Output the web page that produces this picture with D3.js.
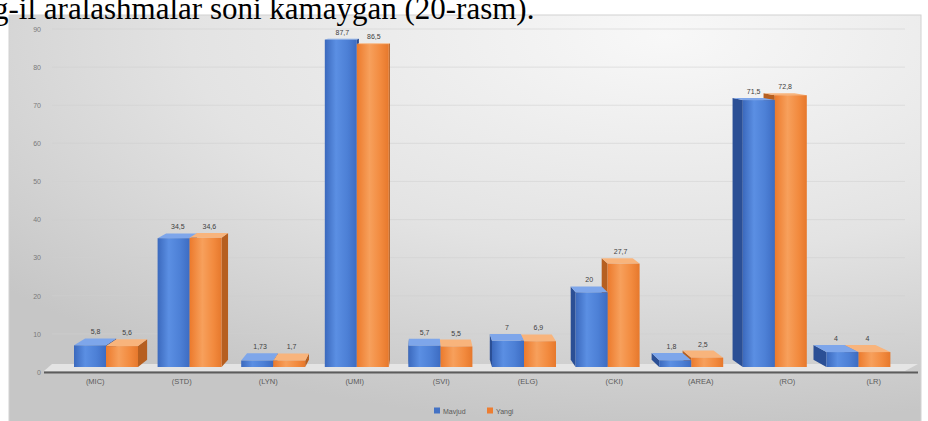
<!DOCTYPE html>
<html>
<head>
<meta charset="utf-8">
<script src="https://cdn.jsdelivr.net/npm/d3@7"></script>
<style>
  html, body { margin: 0; padding: 0; background: #ffffff; overflow: hidden; }
  svg { display: block; }
</style>
</head>
<body>
<svg id="chart" width="928" height="421"></svg>
<script>
// Categories and the two series (values as printed on the bars)
const categories = ["(MIC)", "(STD)", "(LYN)", "(UMI)", "(SVI)", "(ELG)", "(CKI)", "(AREA)", "(RO)", "(LR)"];
const mavjud = [5.8, 34.5, 1.73, 87.7, 5.7, 7, 20, 1.8, 71.5, 4];
const yangi  = [5.6, 34.6, 1.7, 86.5, 5.5, 6.9, 27.7, 2.5, 72.8, 4];
const seriesNames = ["Mavjud", "Yangi"];
const yTickValues = [0, 10, 20, 30, 40, 50, 60, 70, 80, 90];

const svg = d3.select("#chart");
const defs = svg.append("defs");

// Chart area background: light in the upper right, greyer towards the edges
const bg = defs.append("radialGradient").attr("id", "bgGrad")
  .attr("cx", "0.72").attr("cy", "0.05").attr("r", "0.95");
bg.append("stop").attr("offset", "0%").attr("stop-color", "#f8f8f8");
bg.append("stop").attr("offset", "55%").attr("stop-color", "#e3e3e3");
bg.append("stop").attr("offset", "100%").attr("stop-color", "#c6c6c6");

// Front-face shading for the columns
function faceGradient(id, stops) {
  const g = defs.append("linearGradient").attr("id", id)
    .attr("x1", "0").attr("y1", "0").attr("x2", "1").attr("y2", "0");
  stops.forEach(([o, c]) => g.append("stop").attr("offset", o).attr("stop-color", c));
}
faceGradient("blueFace", [["0%", "#3b69bd"], ["35%", "#5b8fe3"], ["70%", "#4d80d6"], ["100%", "#3d6cc2"]]);
faceGradient("orangeFace", [["0%", "#ec7a2c"], ["40%", "#f7a05c"], ["75%", "#f28a3e"], ["100%", "#e6782c"]]);

const palette = {
  Mavjud: { front: "url(#blueFace)", side: "#2b4f95", top: "#7ea6ea" },
  Yangi:  { front: "url(#orangeFace)", side: "#b65f20", top: "#f8b47c" }
};

// Chart frame
svg.append("rect")
  .attr("x", 9).attr("y", 15).attr("width", 912).attr("height", 412)
  .attr("fill", "url(#bgGrad)")
  .attr("stroke", "#d2d2d2").attr("stroke-width", 1);

// Title line of the surrounding document text
svg.append("text")
  .attr("x", -7).attr("y", 19)
  .attr("font-family", "'Liberation Serif', 'Times New Roman', serif")
  .attr("font-size", 31)
  .attr("fill", "#000")
  .text("g-il aralashmalar soni kamaygan (20-rasm).");

// Scales: wall (grid/ticks), bar fronts, category labels, bar groups
const yGrid = d3.scaleLinear().domain([0, 90]).range([372, 29]);
const yBar = d3.scaleLinear().domain([0, 90]).range([367, 31]);
const xLabel = d3.scaleBand().domain(categories).range([52, 917]);
const xGroup = d3.scaleBand().domain(categories).range([64.2, 900.2]);
const xSeries = d3.scaleBand().domain(seriesNames).range([
  (xGroup.bandwidth() - 64) / 2, (xGroup.bandwidth() - 64) / 2 + 64
]);

// Perspective for the 3-D depth of each column
const vpX = 423, vpY = 0, fx = 0.032, fy = 0.02;
const depth = (px, py) => [(vpX - px) * fx, (vpY - py) * fy];

// Gridlines on the back wall
const yAxis = d3.axisLeft(yGrid).tickValues(yTickValues).tickSize(0).tickPadding(0);
const gridG = svg.append("g");
gridG.selectAll("line").data(yTickValues.filter(v => v > 0)).join("line")
  .attr("x1", 52).attr("x2", 905)
  .attr("y1", d => yGrid(d)).attr("y2", d => yGrid(d))
  .attr("stroke", "#cfcfcf").attr("stroke-opacity", 0.55).attr("stroke-width", 1);

const axisG = svg.append("g").attr("transform", "translate(41,0)").call(yAxis);
axisG.select(".domain").remove();
axisG.selectAll("text")
  .attr("font-family", "'Liberation Sans', Arial, sans-serif")
  .attr("font-size", 7).attr("fill", "#7a7a7a");

// Floor of the plot
svg.append("polygon")
  .attr("points", [[44, 371], [905, 371], [918, 364], [52, 364]].map(p => p.join(",")).join(" "))
  .attr("fill", "#e9e9e9").attr("opacity", 0.85);
svg.append("line")
  .attr("x1", 44).attr("x2", 918).attr("y1", 372.5).attr("y2", 372.5)
  .attr("stroke", "#5c5c5c").attr("stroke-width", 2);

// Columns
const bars = [];
categories.forEach((c, i) => {
  const vals = { Mavjud: mavjud[i], Yangi: yangi[i] };
  const cx = xGroup(c) + xGroup.bandwidth() / 2;
  const order = cx < vpX ? seriesNames : seriesNames.slice().reverse();
  order.forEach(s => bars.push({ cat: c, series: s, value: vals[s], sideRight: cx < vpX }));
});

const barG = svg.append("g");
bars.forEach(b => {
  const x0 = xGroup(b.cat) + xSeries(b.series);
  const x1 = x0 + xSeries.bandwidth();
  const yT = yBar(b.value);
  const yB = yBar(0);
  const col = palette[b.series];
  const g = barG.append("g");

  // side face
  const xs = b.sideRight ? x1 : x0;
  const [dxT, dyT] = depth(xs, yT);
  const [dxB, dyB] = depth(xs, yB);
  g.append("polygon")
    .attr("points", [[xs, yT], [xs + dxT, yT + dyT], [xs + dxB, yB + dyB], [xs, yB]].map(p => p.join(",")).join(" "))
    .attr("fill", col.side);

  // top face
  const [dx0, dy0] = depth(x0, yT);
  const [dx1, dy1] = depth(x1, yT);
  g.append("polygon")
    .attr("points", [[x0, yT], [x1, yT], [x1 + dx1, yT + dy1], [x0 + dx0, yT + dy0]].map(p => p.join(",")).join(" "))
    .attr("fill", col.top);

  // front face
  g.append("rect")
    .attr("x", x0).attr("y", yT)
    .attr("width", x1 - x0).attr("height", yB - yT)
    .attr("fill", col.front);

  // value label
  g.append("text")
    .attr("x", (x0 + x1) / 2 + dx0 / 2)
    .attr("y", yT + Math.min(dy0, 0) - 4)
    .attr("text-anchor", "middle")
    .attr("font-family", "'Liberation Sans', Arial, sans-serif")
    .attr("font-size", 7).attr("fill", "#404040")
    .text(String(b.value).replace(".", ","));
});

// Category labels along the front edge of the floor
svg.append("g").selectAll("text").data(categories).join("text")
  .attr("x", d => xLabel(d) + xLabel.bandwidth() / 2)
  .attr("y", 384)
  .attr("text-anchor", "middle")
  .attr("font-family", "'Liberation Sans', Arial, sans-serif")
  .attr("font-size", 7.5).attr("fill", "#5a5a5a")
  .text(d => d);

// Legend
const legend = svg.append("g").attr("transform", "translate(434,411)");
const legendItems = [{ name: "Mavjud", color: "#4472c4", x: 0 }, { name: "Yangi", color: "#ed7d31", x: 53 }];
legendItems.forEach(it => {
  legend.append("rect").attr("x", it.x).attr("y", -3.5).attr("width", 6).attr("height", 6).attr("fill", it.color);
  legend.append("text").attr("x", it.x + 9).attr("y", 2.5)
    .attr("font-family", "'Liberation Sans', Arial, sans-serif")
    .attr("font-size", 7).attr("fill", "#595959").text(it.name);
});
</script>
</body>
</html>
